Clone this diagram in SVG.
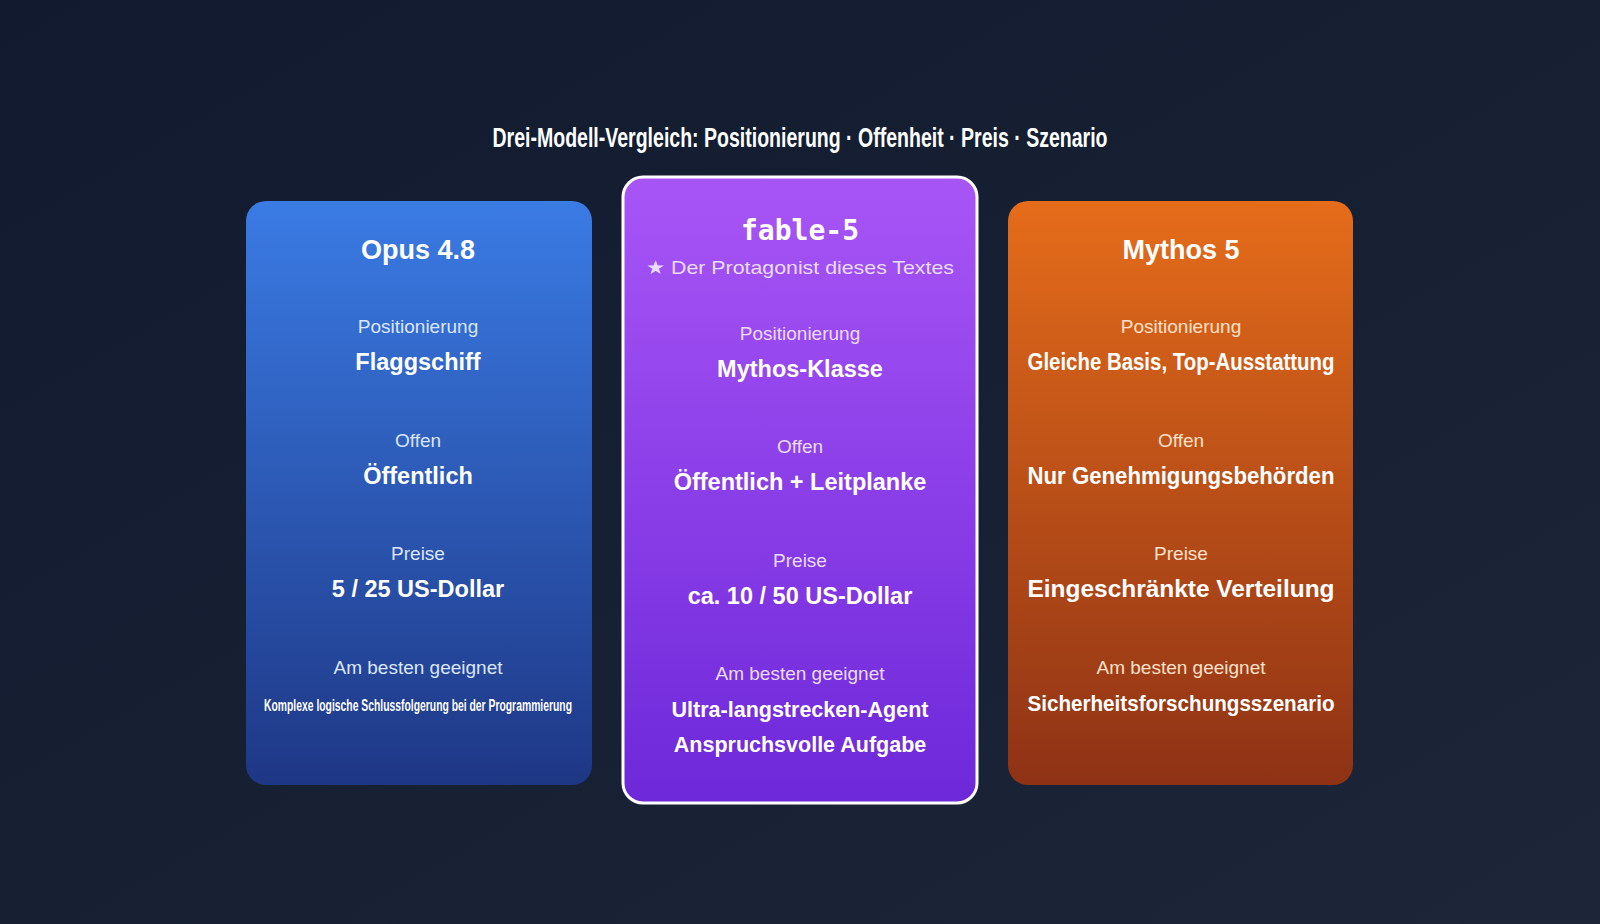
<svg xmlns="http://www.w3.org/2000/svg" width="1600" height="924" viewBox="0 0 1600 924">
<defs>
<linearGradient id="bg" x1="0" y1="0" x2="1" y2="1"><stop offset="0" stop-color="#111a2e"/><stop offset="1" stop-color="#1c2638"/></linearGradient>
<linearGradient id="gb" x1="0" y1="0" x2="0" y2="1"><stop offset="0" stop-color="#3a7be4"/><stop offset="1" stop-color="#1e3785"/></linearGradient>
<linearGradient id="gp" x1="0" y1="0" x2="0" y2="1"><stop offset="0" stop-color="#a855f6"/><stop offset="1" stop-color="#6d28d9"/></linearGradient>
<linearGradient id="go" x1="0" y1="0" x2="0" y2="1"><stop offset="0" stop-color="#e56c1a"/><stop offset="1" stop-color="#8e3215"/></linearGradient>
<style>
text{font-family:"Liberation Sans",Arial,sans-serif;text-anchor:middle;fill:#fff}
.mono{font-family:"DejaVu Sans Mono","Liberation Mono",monospace}
.h{font-size:27px;font-weight:bold}
.l{font-size:19px;fill:#dbe6ff}
.v{font-size:23.5px;font-weight:bold}
.v2{font-size:21.5px;font-weight:bold}
.lp{font-size:19px;fill:#eadcff}
.lo{font-size:19px;fill:#ffe0c8}
</style>
</defs>
<rect width="1600" height="924" fill="url(#bg)"/>
<text x="800" y="147" font-size="27" font-weight="bold" textLength="615" lengthAdjust="spacingAndGlyphs">Drei-Modell-Vergleich: Positionierung · Offenheit · Preis · Szenario</text>
<g id="opus">
<rect x="246" y="201" width="346" height="584" rx="20" fill="url(#gb)"/>
<text class="h" x="418" y="259">Opus 4.8</text>
<text class="l" x="418" y="333">Positionierung</text>
<text class="v" x="418" y="370">Flaggschiff</text>
<text class="l" x="418" y="447">Offen</text>
<text class="v" x="418" y="484">Öffentlich</text>
<text class="l" x="418" y="560">Preise</text>
<text class="v" x="418" y="597">5 / 25 US-Dollar</text>
<text class="l" x="418" y="674">Am besten geeignet</text>
<text x="418" y="711" font-size="17" font-weight="bold" textLength="308" lengthAdjust="spacingAndGlyphs">Komplexe logische Schlussfolgerung bei der Programmierung</text>
</g>
<g id="fable">
<rect x="623" y="177" width="354" height="626" rx="20" fill="url(#gp)" stroke="#fff" stroke-width="3"/>
<text class="mono" x="800" y="240" font-size="28" font-weight="bold">fable-5</text>
<text class="lp" x="800" y="274" font-size="20" textLength="308" lengthAdjust="spacingAndGlyphs">★ Der Protagonist dieses Textes</text>
<text class="lp" x="800" y="340">Positionierung</text>
<text class="v" x="800" y="377">Mythos-Klasse</text>
<text class="lp" x="800" y="453">Offen</text>
<text class="v" x="800" y="490">Öffentlich + Leitplanke</text>
<text class="lp" x="800" y="567">Preise</text>
<text class="v" x="800" y="604">ca. 10 / 50 US-Dollar</text>
<text class="lp" x="800" y="680">Am besten geeignet</text>
<text class="v2" x="800" y="717">Ultra-langstrecken-Agent</text>
<text class="v2" x="800" y="752">Anspruchsvolle Aufgabe</text>
</g>
<g id="mythos">
<rect x="1008" y="201" width="345" height="584" rx="20" fill="url(#go)"/>
<text class="h" x="1181" y="259">Mythos 5</text>
<text class="lo" x="1181" y="333">Positionierung</text>
<text class="v" x="1181" y="370" textLength="307" lengthAdjust="spacingAndGlyphs">Gleiche Basis, Top-Ausstattung</text>
<text class="lo" x="1181" y="447">Offen</text>
<text class="v" x="1181" y="484" textLength="307" lengthAdjust="spacingAndGlyphs">Nur Genehmigungsbehörden</text>
<text class="lo" x="1181" y="560">Preise</text>
<text class="v" x="1181" y="597" textLength="307" lengthAdjust="spacingAndGlyphs">Eingeschränkte Verteilung</text>
<text class="lo" x="1181" y="674">Am besten geeignet</text>
<text class="v2" x="1181" y="711" textLength="307" lengthAdjust="spacingAndGlyphs">Sicherheitsforschungsszenario</text>
</g>
<g id="connectors"/>
</svg>
